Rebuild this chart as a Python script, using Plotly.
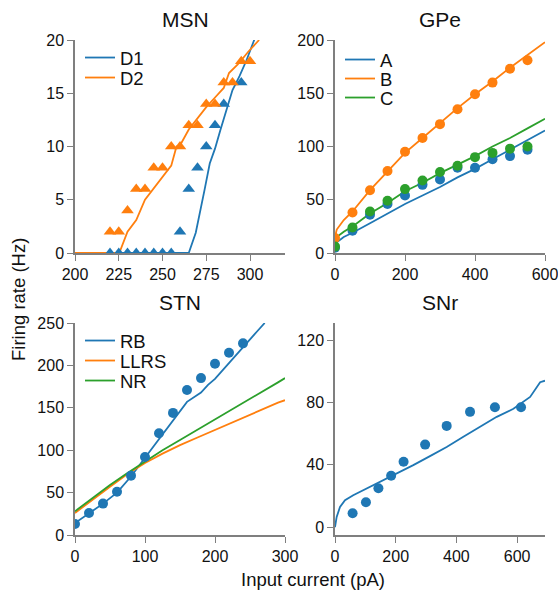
import plotly.graph_objects as go

W, H = 558, 592
BLUE, ORANGE, GREEN = "#1f77b4", "#ff7f0e", "#2ca02c"
FONT = "Liberation Sans, Arial, Helvetica, sans-serif"

# ---------------- MSN ----------------
msn_d1_pts_x = [220, 225, 230, 235, 240, 245, 250, 255, 260, 265, 270, 275, 280, 285, 295]
msn_d1_pts_y = [0, 0, 0, 0, 0, 0, 0, 0, 2, 6, 8, 10, 12, 14, 16]
msn_d2_pts_x = [220, 225, 230, 235, 240, 245, 250, 255, 260, 265, 270, 275, 280, 285, 290, 295, 300]
msn_d2_pts_y = [2, 2, 4, 6, 6, 8, 8, 10, 10, 12, 12, 14, 14, 16, 16, 18, 18]
msn_d1_line_x = [200, 265, 269, 271, 274, 277, 280, 283, 286, 290, 294, 298, 302.4, 305]
msn_d1_line_y = [0, 0, 1.9, 3.4, 5.9, 8.4, 9.8, 11.5, 13.1, 15.3, 16.6, 18.1, 20, 21]
msn_d2_line_x = [200, 225.3, 230, 235, 240, 245, 250, 255, 258, 260, 265, 270, 275, 280, 285, 288, 293, 299, 305.2]
msn_d2_line_y = [0, 0, 2, 3.1, 5, 6.1, 7.2, 8.2, 10, 10.1, 11.6, 12.7, 13.7, 14.6, 15.5, 16.9, 17.7, 18.9, 20]

# ---------------- GPe ----------------
gpe_pts_x = [0, 50, 100, 150, 200, 250, 300, 350, 400, 450, 500, 550]
gpe_a_pts_y = [5, 21, 36, 46, 54, 64, 69, 80, 80, 88, 91, 97]
gpe_b_pts_y = [14, 38, 59, 77, 95, 108, 121, 135, 149, 160, 173, 181]
gpe_c_pts_y = [6, 24, 39, 49, 60, 68, 76, 82, 90, 94, 98, 100]
gpe_line_x = [0, 5, 25, 50, 100, 150, 200, 250, 300, 350, 400, 450, 500, 550, 600]
gpe_a_line_y = [4, 10, 15, 19, 28, 37, 46, 54, 62, 71, 79, 88, 97, 106, 115]
gpe_b_line_y = [15, 22, 31, 39, 59, 77, 94, 108, 122, 136, 149, 161, 174, 186, 198]
gpe_c_line_y = [10, 15, 20, 25, 37, 47, 58, 66, 75, 83, 91, 100, 108, 117, 126]

# ---------------- STN ----------------
stn_rb_pts_x = [0, 20, 40, 60, 80, 100, 120, 140, 160, 180, 200, 220, 240]
stn_rb_pts_y = [13, 26, 37, 51, 70, 92, 120, 144, 171, 185, 202, 215, 226]
stn_rb_line_x = [0, 20, 40, 60, 80, 100, 120, 140, 160, 180, 190, 200, 220, 240, 260, 271]
stn_rb_line_y = [14, 25, 37, 50, 69, 91, 113, 136, 157, 168, 177, 184, 203, 222, 240, 250]
stn_line_x = [0, 25, 50, 75, 100, 125, 150, 175, 200, 225, 250, 275, 290, 300]
stn_llrs_line_y = [26, 42, 57, 72, 85, 96, 106, 115, 124, 133, 142, 151, 156, 159]
stn_nr_line_y = [28, 44, 59, 73, 87, 100, 112, 124, 137, 148, 160, 172, 180, 185]

# ---------------- SNr ----------------
snr_pts_x = [58, 102, 143, 185, 226, 297, 368, 445, 527, 613]
snr_pts_y = [9, 16, 25, 33, 42, 53, 65, 74, 77, 77]
snr_line_x = [0, 5.5, 16.5, 33, 60, 93, 148, 203, 258, 313, 368, 423, 478, 533, 588, 643, 676, 692]
snr_line_y = [0, 6.6, 13, 17.3, 20.5, 23.7, 29, 34.4, 39.8, 45.6, 51.5, 58, 64.4, 70.8, 76, 83.6, 93, 94]

fig = go.Figure()

def px_x(v):
    return v / W

def px_y(v):
    return 1 - v / H

def line(x, y, color, name, xa, ya, legend):
    fig.add_trace(go.Scatter(x=x, y=y, mode="lines", name=name,
                             line=dict(color=color, width=1.8),
                             xaxis=xa, yaxis=ya, legend=legend, showlegend=True))

def pts(x, y, color, xa, ya, symbol="circle", size=10):
    fig.add_trace(go.Scatter(x=x, y=y, mode="markers",
                             marker=dict(color=color, size=size, symbol=symbol, line=dict(width=0)),
                             xaxis=xa, yaxis=ya, showlegend=False))

# MSN (x, y)
line(msn_d1_line_x, msn_d1_line_y, BLUE, "D1", "x", "y", "legend")
line(msn_d2_line_x, msn_d2_line_y, ORANGE, "D2", "x", "y", "legend2")
pts(msn_d1_pts_x, msn_d1_pts_y, BLUE, "x", "y", "triangle-up", 11)
pts(msn_d2_pts_x, msn_d2_pts_y, ORANGE, "x", "y", "triangle-up", 11)

# GPe (x2, y2)
line(gpe_line_x, gpe_a_line_y, BLUE, "A", "x2", "y2", "legend3")
line(gpe_line_x, gpe_b_line_y, ORANGE, "B", "x2", "y2", "legend4")
line(gpe_line_x, gpe_c_line_y, GREEN, "C", "x2", "y2", "legend5")
pts(gpe_pts_x, gpe_a_pts_y, BLUE, "x2", "y2")
pts(gpe_pts_x, gpe_b_pts_y, ORANGE, "x2", "y2")
pts(gpe_pts_x, gpe_c_pts_y, GREEN, "x2", "y2")

# STN (x3, y3)
line(stn_rb_line_x, stn_rb_line_y, BLUE, "RB", "x3", "y3", "legend6")
line(stn_line_x, stn_llrs_line_y, ORANGE, "LLRS", "x3", "y3", "legend7")
line(stn_line_x, stn_nr_line_y, GREEN, "NR", "x3", "y3", "legend8")
pts(stn_rb_pts_x, stn_rb_pts_y, BLUE, "x3", "y3")

# SNr (x4, y4)
fig.add_trace(go.Scatter(x=snr_line_x, y=snr_line_y, mode="lines",
                         line=dict(color=BLUE, width=1.8), xaxis="x4", yaxis="y4", showlegend=False))
pts(snr_pts_x, snr_pts_y, BLUE, "x4", "y4")

xL = [px_x(75), px_x(285)]
xR = [px_x(335), px_x(545)]
yT = [px_y(253), px_y(40)]
yB = [px_y(535), px_y(323)]

ax_common = dict(showline=True, linecolor="#7f7f7f", linewidth=1.5, ticks="outside",
                 tickcolor="#7f7f7f", ticklen=6, tickwidth=1.3, showgrid=False, zeroline=False,
                 automargin=False, ticklabeloverflow="allow",
                 tickfont=dict(size=16, color="#111", family=FONT), fixedrange=True)

fig.update_layout(
    width=W, height=H, margin=dict(l=0, r=0, t=0, b=0),
    paper_bgcolor="white", plot_bgcolor="white",
    font=dict(family=FONT, color="#111"),
    xaxis=dict(domain=xL, anchor="y", range=[200, 320], tickvals=[200, 225, 250, 275, 300], **ax_common),
    yaxis=dict(domain=yT, anchor="x", range=[0, 20], tickvals=[0, 5, 10, 15, 20], **ax_common),
    xaxis2=dict(domain=xR, anchor="y2", range=[0, 600], tickvals=[0, 200, 400, 600], **ax_common),
    yaxis2=dict(domain=yT, anchor="x2", range=[0, 200], tickvals=[0, 50, 100, 150, 200], **ax_common),
    xaxis3=dict(domain=xL, anchor="y3", range=[0, 300], tickvals=[0, 100, 200, 300], **ax_common),
    yaxis3=dict(domain=yB, anchor="x3", range=[0, 250], tickvals=[0, 50, 100, 150, 200, 250], **ax_common),
    xaxis4=dict(domain=xR, anchor="y4", range=[0, 692], tickvals=[0, 200, 400, 600], **ax_common),
    yaxis4=dict(domain=yB, anchor="x4", range=[-5, 131], tickvals=[0, 40, 80, 120], **ax_common),
)

# one legend per entry so the entries can sit as tightly as in the reference
leg_common = dict(bgcolor="rgba(0,0,0,0)", borderwidth=0, font=dict(size=18.5, family=FONT, color="#111"),
                  xanchor="left", yanchor="top")
LEG_OFF = 18  # distance from legend top to entry centre
legend_spots = {  # (left px, entry centre px)
    "legend": (80, 57), "legend2": (80, 77),
    "legend3": (340, 59), "legend4": (340, 78), "legend5": (340, 97),
    "legend6": (80, 340), "legend7": (80, 360), "legend8": (80, 380),
}
fig.update_layout(**{k: dict(x=px_x(lx), y=px_y(cy - LEG_OFF), **leg_common)
                     for k, (lx, cy) in legend_spots.items()})

def ann(text, x, y, size, angle=0):
    fig.add_annotation(text=text, x=px_x(x), y=px_y(y), xref="paper", yref="paper",
                       xanchor="center", yanchor="middle", showarrow=False, textangle=angle,
                       font=dict(size=size, family=FONT, color="#111"))

ann("MSN", 185, 20, 21)
ann("GPe", 440, 20, 21)
ann("STN", 180, 302, 21)
ann("SNr", 440, 302, 21)
ann("Firing rate (Hz)", 18, 300, 18.5, -90)
ann("Input current (pA)", 313, 579, 18.5)

fig.write_html("out.html", config={"displayModeBar": False},
               post_script="document.body.style.margin='0';")
